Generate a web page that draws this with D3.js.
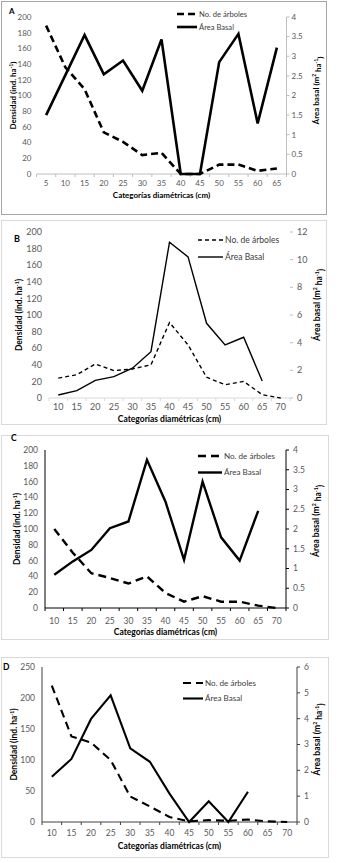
<!DOCTYPE html>
<html>
<head>
<meta charset="utf-8">
<script src="https://cdn.jsdelivr.net/npm/d3@7"></script>
<style>
  body { margin: 0; background: #fff; }
  svg { display: block; font-family: Lato, "Open Sans", sans-serif; }
</style>
</head>
<body>
<svg id="chart" width="346" height="863"></svg>
<script>
// Panel A
const catsA = [5, 10, 15, 20, 25, 30, 35, 40, 45, 50, 55, 60, 65];
const densA = [189, 136, 108, 53, 41, 24, 27, 0, 0, 12, 12, 4, 7];
const areaA = [1.5, 2.52, 3.54, 2.54, 2.89, 2.12, 3.43, 0, 0, 2.85, 3.57, 1.29, 3.22];
const densTicksA = [0, 20, 40, 60, 80, 100, 120, 140, 160, 180, 200];
const areaTicksA = [0, 0.5, 1, 1.5, 2, 2.5, 3, 3.5, 4];

// Panel B
const catsB = [10, 15, 20, 25, 30, 35, 40, 45, 50, 55, 60, 65, 70];
const densB = [24, 28, 41, 33, 35, 40, 91, 64, 25, 16, 20, 4, 0];
const areaB = [0.22, 0.53, 1.28, 1.54, 2.15, 3.35, 11.26, 10.2, 5.4, 3.83, 4.39, 1.23, null];
const densTicksB = [0, 20, 40, 60, 80, 100, 120, 140, 160, 180, 200];
const areaTicksB = [0, 2, 4, 6, 8, 10, 12];

// Panel C
const catsC = [10, 15, 20, 25, 30, 35, 40, 45, 50, 55, 60, 65, 70];
const densC = [100, 70, 44, 38, 31, 40, 19, 8, 15, 8, 8, 3, 0];
const areaC = [0.84, 1.18, 1.47, 2.02, 2.19, 3.75, 2.69, 1.22, 3.2, 1.79, 1.2, 2.46, null];
const densTicksC = [0, 20, 40, 60, 80, 100, 120, 140, 160, 180, 200];
const areaTicksC = [0, 0.5, 1, 1.5, 2, 2.5, 3, 3.5, 4];

// Panel D
const catsD = [10, 15, 20, 25, 30, 35, 40, 45, 50, 55, 60, 65, 70];
const densD = [220, 138, 128, 100, 41, 25, 8, 1, 3, 2, 4, 1, 0];
const areaD = [1.75, 2.44, 3.99, 4.9, 2.85, 2.33, 1.1, 0, 0.8, 0, 1.17, null, null];
const densTicksD = [0, 50, 100, 150, 200, 250];
const areaTicksD = [0, 1, 2, 3, 4, 5, 6];

const legendLabels = ['No. de árboles', 'Área Basal'];

const svg = d3.select('#chart');

const panels = [
  {
    label: 'A', cats: catsA, dens: densA, area: areaA, densTicks: densTicksA, areaTicks: areaTicksA,
    box: [1, 1, 325, 213], boxColor: '#a6a6a6',
    plot: { left: 36.5, right: 286.5, top: 17, bottom: 174 },
    labelPos: [9, 14], font: 8, titleFont: 8, lw: 2.6, dash: '7,4',
    legend: { x1: 177, x2: 197, y: 14, dy: 13 },
    xLabelY: 186, xTitleY: 198, leftTitleX: 13, rightTitleX: 316, rightTitleDy: -5,
    tickGap: 5, axisColor: '#bfbfbf', leftLine: false, rightLine: true
  },
  {
    label: 'B', cats: catsB, dens: densB, area: areaB, densTicks: densTicksB, areaTicks: areaTicksB,
    box: [1, 220, 325, 204], boxColor: '#d9d9d9',
    plot: { left: 49, right: 290, top: 232, bottom: 398 },
    labelPos: [14, 242], font: 9, titleFont: 8.5, lw: 1.4, dash: '4,3',
    legend: { x1: 198, x2: 223, y: 240, dy: 17 },
    xLabelY: 410, xTitleY: 422, leftTitleX: 19, rightTitleX: 317, rightTitleDy: -10,
    tickGap: 7, axisColor: '#d9d9d9', leftLine: false, rightLine: false
  },
  {
    label: 'C', cats: catsC, dens: densC, area: areaC, densTicks: densTicksC, areaTicks: areaTicksC,
    box: [1, 435, 327, 204], boxColor: '#d9d9d9',
    plot: { left: 45, right: 286, top: 450, bottom: 608 },
    labelPos: [11, 441], font: 8.5, titleFont: 8.5, lw: 2.4, dash: '8,5',
    legend: { x1: 198, x2: 222, y: 456, dy: 16.5 },
    xLabelY: 624, xTitleY: 635, leftTitleX: 17, rightTitleX: 316, rightTitleDy: -8,
    tickGap: 7, axisColor: '#000', leftLine: true, rightLine: true
  },
  {
    label: 'D', cats: catsD, dens: densD, area: areaD, densTicks: densTicksD, areaTicks: areaTicksD,
    box: [1, 657, 327, 200], boxColor: '#d9d9d9',
    plot: { left: 42, right: 297, top: 667, bottom: 822 },
    labelPos: [3, 670], font: 8.5, titleFont: 8.5, lw: 2.1, dash: '8,5',
    legend: { x1: 183, x2: 203, y: 683, dy: 15.5 },
    xLabelY: 836, xTitleY: 849, leftTitleX: 14, rightTitleX: 317, rightTitleDy: -5,
    tickGap: 7, axisColor: '#404040', leftLine: true, rightLine: true
  }
];

panels.forEach(drawPanel);

function drawPanel(p) {
  const g = svg.append('g');
  const { left, right, top, bottom } = p.plot;

  // panel frame
  g.append('rect')
    .attr('x', p.box[0] + 0.5).attr('y', p.box[1] + 0.5)
    .attr('width', p.box[2]).attr('height', p.box[3])
    .attr('fill', '#fff')
    .attr('stroke', p.boxColor);

  const xBand = d3.scaleBand().domain(p.cats).range([left, right]).paddingInner(0).paddingOuter(0);
  const x = d => xBand(d) + xBand.bandwidth() / 2;
  const yL = d3.scaleLinear().domain(d3.extent(p.densTicks)).range([bottom, top]);
  const yR = d3.scaleLinear().domain(d3.extent(p.areaTicks)).range([bottom, top]);

  // bottom axis: line + tick marks between categories
  g.append('line')
    .attr('x1', left).attr('x2', right)
    .attr('y1', bottom).attr('y2', bottom)
    .attr('stroke', p.axisColor).attr('stroke-width', 1);
  const edges = p.cats.map(c => xBand(c)).concat([right]);
  g.selectAll(null).data(edges).join('line')
    .attr('x1', d => d).attr('x2', d => d)
    .attr('y1', bottom).attr('y2', bottom + 3)
    .attr('stroke', p.axisColor);

  g.selectAll(null).data(p.cats).join('text')
    .attr('x', d => x(d)).attr('y', p.xLabelY)
    .attr('text-anchor', 'middle')
    .attr('font-size', p.font).attr('fill', '#595959')
    .text(d => d);

  // left axis
  if (p.leftLine) {
    g.append('line')
      .attr('x1', left).attr('x2', left).attr('y1', top).attr('y2', bottom)
      .attr('stroke', p.axisColor);
  }
  g.selectAll(null).data(p.densTicks).join('text')
    .attr('x', left - p.tickGap).attr('y', d => yL(d))
    .attr('dy', '0.35em')
    .attr('text-anchor', 'end')
    .attr('font-size', p.font).attr('fill', '#595959')
    .text(d => d);

  // right axis
  if (p.rightLine) {
    g.append('line')
      .attr('x1', right).attr('x2', right).attr('y1', top).attr('y2', bottom)
      .attr('stroke', p.axisColor);
  }
  g.selectAll(null).data(p.areaTicks).join('line')
    .attr('x1', right).attr('x2', right + 3)
    .attr('y1', d => yR(d)).attr('y2', d => yR(d))
    .attr('stroke', p.rightLine ? p.axisColor : '#bfbfbf');
  g.selectAll(null).data(p.areaTicks).join('text')
    .attr('x', right + p.tickGap).attr('y', d => yR(d))
    .attr('dy', '0.35em')
    .attr('font-size', p.font).attr('fill', '#595959')
    .text(d => d);

  // axis titles
  const midY = (top + bottom) / 2;
  const lt = g.append('text')
    .attr('transform', `translate(${p.leftTitleX},${midY}) rotate(-90)`)
    .attr('text-anchor', 'middle').attr('dy', '0.35em')
    .attr('font-size', p.titleFont).attr('font-weight', 'bold');
  lt.append('tspan').text('Densidad (ind. ha');
  lt.append('tspan').attr('font-size', p.titleFont * 0.6).attr('dy', '-0.6em').text('-1');
  lt.append('tspan').attr('dy', '0.35em').text(')');

  const rt = g.append('text')
    .attr('transform', `translate(${p.rightTitleX},${midY + p.rightTitleDy}) rotate(-90)`)
    .attr('text-anchor', 'middle').attr('dy', '0.35em')
    .attr('font-size', p.titleFont).attr('font-weight', 'bold');
  rt.append('tspan').text('Área basal (m');
  rt.append('tspan').attr('font-size', p.titleFont * 0.6).attr('dy', '-0.6em').text('2');
  rt.append('tspan').attr('dy', '0.6em').text(' ha');
  rt.append('tspan').attr('font-size', p.titleFont * 0.6).attr('dy', '-0.6em').text('-1');
  rt.append('tspan').attr('dy', '0.6em').text(')');

  g.append('text')
    .attr('x', (left + right) / 2).attr('y', p.xTitleY)
    .attr('text-anchor', 'middle')
    .attr('font-size', p.titleFont).attr('font-weight', 'bold')
    .text('Categorías diamétricas (cm)');

  // panel letter
  g.append('text')
    .attr('x', p.labelPos[0]).attr('y', p.labelPos[1])
    .attr('font-size', p.font).attr('font-weight', 'bold')
    .text(p.label);

  // series
  const densLine = d3.line()
    .defined(d => d.v != null)
    .x(d => x(d.c)).y(d => yL(d.v));
  const areaLine = d3.line()
    .defined(d => d.v != null)
    .x(d => x(d.c)).y(d => yR(d.v));

  g.append('path')
    .datum(p.cats.map((c, i) => ({ c, v: p.area[i] })))
    .attr('d', areaLine)
    .attr('fill', 'none').attr('stroke', '#000')
    .attr('stroke-width', p.lw).attr('stroke-linejoin', 'miter');

  g.append('path')
    .datum(p.cats.map((c, i) => ({ c, v: p.dens[i] })))
    .attr('d', densLine)
    .attr('fill', 'none').attr('stroke', '#000')
    .attr('stroke-width', p.lw).attr('stroke-dasharray', p.dash);

  // legend
  const lg = p.legend;
  g.append('line')
    .attr('x1', lg.x1).attr('x2', lg.x2).attr('y1', lg.y).attr('y2', lg.y)
    .attr('stroke', '#000').attr('stroke-width', p.lw).attr('stroke-dasharray', p.dash);
  g.append('line')
    .attr('x1', lg.x1).attr('x2', lg.x2).attr('y1', lg.y + lg.dy).attr('y2', lg.y + lg.dy)
    .attr('stroke', '#000').attr('stroke-width', p.lw);
  g.selectAll(null).data(legendLabels).join('text')
    .attr('x', lg.x2 + 2).attr('y', (d, i) => lg.y + i * lg.dy)
    .attr('dy', '0.35em')
    .attr('font-size', p.font * 0.95).attr('fill', '#404040')
    .text(d => d);
}
</script>
</body>
</html>
